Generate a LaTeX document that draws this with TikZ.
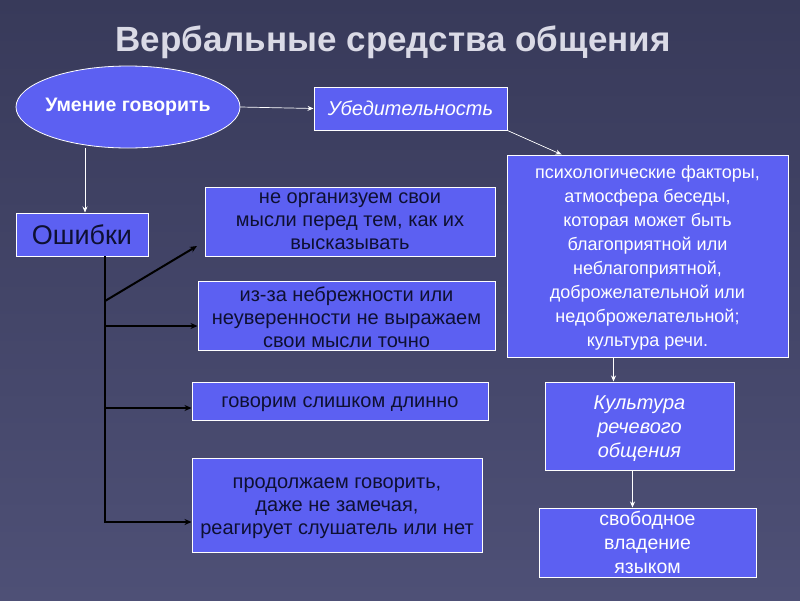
\documentclass[tikz,border=0pt]{standalone}
\usepackage{fontspec}
\setmainfont{Liberation Sans}
\usetikzlibrary{shapes.geometric,arrows.meta}
\definecolor{boxblue}{RGB}{92,96,242}
\definecolor{bgtop}{RGB}{56,58,90}
\definecolor{bgbot}{RGB}{78,80,118}
\definecolor{darktext}{RGB}{14,16,50}
\definecolor{titlecol}{RGB}{218,218,230}
\tikzset{
  box/.style={draw=white, line width=1pt, fill=boxblue, inner sep=0pt, align=center},
  darkfont/.style={text=darktext, font=\fontsize{20}{23}\selectfont},
  lightfont/.style={text=white, font=\fontsize{18}{24}\selectfont},
  wline/.style={draw=white, line width=0.7pt, -{Stealth[length=6pt,width=5pt]}},
  bline/.style={draw=black, line width=2pt, -{Stealth[length=7pt,width=6pt]}},
  trunk/.style={draw=black, line width=2pt}
}
\begin{document}
\begin{tikzpicture}[x=1pt,y=-1pt]
\shade[top color=bgtop, bottom color=bgbot] (0,0) rectangle (800,600);
\useasboundingbox (0,0) rectangle (800,600);
% title
\node[text=titlecol, font=\bfseries\fontsize{35}{40}\selectfont] (title) at (393,42) {Вербальные средства общения};
% ellipse
\node[ellipse, draw=white, line width=0.8pt, fill=boxblue, minimum width=224pt, minimum height=82pt, inner xsep=-14pt, inner ysep=0pt, text=white, font=\bfseries\fontsize{19.5}{22}\selectfont] (umen) at (128,107) {Умение говорить};
% right column
\node[box, minimum width=193pt, minimum height=43pt, text=white, font=\itshape\fontsize{20}{24}\selectfont] (ubed) at (410.5,108.5) {Убедительность};
\node[box, minimum width=281pt, minimum height=202pt] (psych) at (647.5,256) {};
\node[lightfont, align=center, inner sep=0pt] (psychtxt) at (647.5,258) {психологические факторы,\\атмосфера беседы,\\которая может быть\\благоприятной или\\неблагоприятной,\\доброжелательной или\\недоброжелательной;\\культура речи.};
\node[box, minimum width=189pt, minimum height=88pt] (kult) at (639.5,426) {};
\node[text=white, font=\itshape\fontsize{20}{24}\selectfont, align=center, inner sep=0pt] (kulttxt) at (639.5,429) {Культура\\речевого\\общения};
\node[box, text=white, font=\fontsize{19.5}{24}\selectfont, minimum width=217pt, minimum height=69pt] (svob) at (647.5,542.5) {свободное\\ владение\\языком};
% left column
\node[box, text=darktext, font=\fontsize{27}{30}\selectfont, minimum width=132pt, minimum height=43pt] (osh) at (82,234.5) {Ошибки};
\node[box, darkfont, minimum width=290pt, minimum height=69pt] (b1) at (350,221.5) {не организуем свои\\мысли перед тем, как их\\высказывать};
\node[box, darkfont, minimum width=297pt, minimum height=69pt] (b2) at (346.5,315.5) {};
\node[darkfont, align=center, inner sep=0pt] (b2txt) at (346.5,317.5) {из-за небрежности или\\неуверенности не выражаем\\свои мысли точно};
\node[box, minimum width=296pt, minimum height=38pt] (b3) at (340,401) {};
\node[darkfont, inner sep=0pt] (b3txt) at (340,404) {говорим слишком длинно};
\node[box, minimum width=290pt, minimum height=94pt] (b4) at (337,505) {};
\node[darkfont, align=center, inner sep=0pt] (b4txt) at (337,508) {продолжаем говорить,\\даже не замечая,\\реагирует слушатель или нет};
% connectors
\draw[wline] (umen.east) -- (ubed.west);
\draw[wline] (ubed.south east) -- ([xshift=55pt]psych.north west);
\draw[wline] (psych.south -| kult.north west) ++(69pt,0) coordinate (p1) -- (p1 |- kult.north);
\draw[wline] ([xshift=88pt]kult.south west) coordinate (k1) -- (k1 |- svob.north);
\draw[wline] (85,148) coordinate (u1) -- (u1 |- osh.north);
% black trunk
\coordinate (t0) at (105,256);
\coordinate (ta) at (105,301);
\coordinate (tb) at (105,326);
\coordinate (tc) at (105,408);
\coordinate (td) at (105,522);
\draw[trunk] (t0) -- (td);
\draw[bline] (ta) -- (197,246) coordinate (e1);
\draw[bline] (tb) -- (tb -| b2.west);
\draw[bline] (tc) -- (tc -| b3.west);
\draw[bline, shorten <=-1pt] (td) -- (td -| b4.west);
\end{tikzpicture}
\end{document}
